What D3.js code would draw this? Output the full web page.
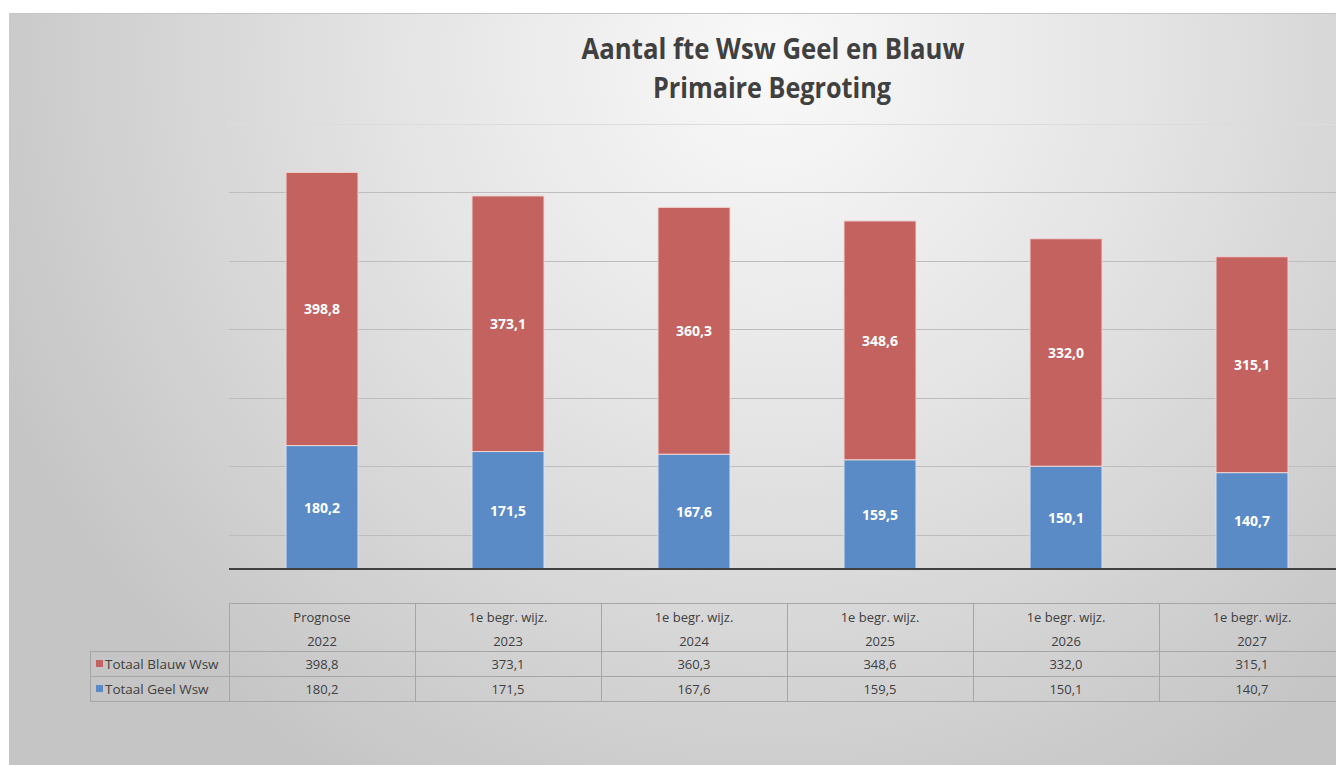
<!DOCTYPE html>
<html><head><meta charset="utf-8">
<script src="https://cdn.jsdelivr.net/npm/d3@7"></script>
<style>html,body{margin:0;padding:0;background:#fff;overflow:hidden}</style>
</head><body>
<svg id="c" width="1336" height="765"></svg>
<script>
const categories = ["Prognose|2022","1e begr. wijz.|2023","1e begr. wijz.|2024","1e begr. wijz.|2025","1e begr. wijz.|2026","1e begr. wijz.|2027"];
const blauw = [398.8, 373.1, 360.3, 348.6, 332.0, 315.1];
const geel = [180.2, 171.5, 167.6, 159.5, 150.1, 140.7];
const seriesNames = ["Totaal Blauw Wsw", "Totaal Geel Wsw"];
const gridValues = [50,150,250,350,450,550,650];
const titleLines = ["Aantal fte Wsw Geel en Blauw", "Primaire Begroting"];

const fmt = v => v.toFixed(1).replace(".", ",");
const svg = d3.select("#c");
const defs = svg.append("defs");
const grad = defs.append("radialGradient").attr("id","bg").attr("gradientUnits","userSpaceOnUse")
  .attr("cx",770).attr("cy",60).attr("r",840);
grad.append("stop").attr("offset",0).attr("stop-color","#f9f9f9");
grad.append("stop").attr("offset",0.45).attr("stop-color","#e4e4e4");
grad.append("stop").attr("offset",1).attr("stop-color","#c5c5c5");
defs.append("clipPath").attr("id","clip").append("rect").attr("x",0).attr("y",0).attr("width",1336).attr("height",765);

svg.append("rect").attr("x",9).attr("y",13).attr("width",1327).attr("height",752).attr("fill","url(#bg)");
svg.append("line").attr("x1",9).attr("x2",1336).attr("y1",13.5).attr("y2",13.5).attr("stroke","#c4c4c4");

const x = d3.scaleBand().domain(d3.range(categories.length)).range([229, 229 + 186*6]).paddingInner(0).paddingOuter(0);
const y = d3.scaleLinear().domain([0,700]).range([569, 89.5]);
const bw = 72;

const g = svg.append("g").attr("clip-path","url(#clip)");
g.selectAll(".grid").data(gridValues).join("line")
  .attr("x1",229).attr("x2",1336)
  .attr("y1",d=>Math.round(y(d))+0.5).attr("y2",d=>Math.round(y(d))+0.5)
  .attr("stroke",(d,i)=> i===gridValues.length-1 ? "#dcdcdc" : "#bdbdbd").attr("stroke-width",1);

const cx = i => x(i) + x.bandwidth()/2;
g.selectAll(".geel").data(geel).join("rect")
  .attr("x",(d,i)=>cx(i)-bw/2).attr("width",bw)
  .attr("y",d=>y(d)).attr("height",d=>y(0)-y(d))
  .attr("fill","#5b8bc6").attr("stroke","#d6e2f2").attr("stroke-width",1);
g.selectAll(".blauw").data(blauw).join("rect")
  .attr("x",(d,i)=>cx(i)-bw/2).attr("width",bw)
  .attr("y",(d,i)=>y(d+geel[i])).attr("height",(d,i)=>y(geel[i])-y(d+geel[i]))
  .attr("fill","#c4625f").attr("stroke","#f0d4d3").attr("stroke-width",1);

const lblFont = "'Open Sans', 'Noto Sans', sans-serif";
g.selectAll(".lg").data(geel).join("text")
  .attr("x",(d,i)=>cx(i)).attr("y",d=>(y(0)+y(d))/2)
  .attr("text-anchor","middle").attr("dominant-baseline","central")
  .attr("fill","#fff").attr("font-family",lblFont).attr("font-weight","bold").attr("font-size",14)
  .text(d=>fmt(d));
g.selectAll(".lb").data(blauw).join("text")
  .attr("x",(d,i)=>cx(i)).attr("y",(d,i)=>(y(geel[i])+y(d+geel[i]))/2)
  .attr("text-anchor","middle").attr("dominant-baseline","central")
  .attr("fill","#fff").attr("font-family",lblFont).attr("font-weight","bold").attr("font-size",14)
  .text(d=>fmt(d));

g.append("line").attr("x1",229).attr("x2",1336).attr("y1",569).attr("y2",569)
  .attr("stroke","#404040").attr("stroke-width",2);

const tFont = "'Open Sans', sans-serif";
svg.append("text").attr("x",773).attr("y",59).attr("text-anchor","middle")
  .attr("font-family",tFont).attr("font-weight","bold").attr("font-size",28).attr("fill","#404040")
  .attr("textLength",383).attr("lengthAdjust","spacingAndGlyphs").text(titleLines[0]);
svg.append("text").attr("x",772).attr("y",98).attr("text-anchor","middle")
  .attr("font-family",tFont).attr("font-weight","bold").attr("font-size",28).attr("fill","#404040")
  .attr("textLength",238).attr("lengthAdjust","spacingAndGlyphs").text(titleLines[1]);

const tg = svg.append("g").attr("clip-path","url(#clip)");
const bc = "#a6a6a6";
const tblFont = "'Open Sans', 'Noto Sans', sans-serif";
const tfs = 13;
const xr = 229 + 186*6;
tg.append("line").attr("x1",229).attr("x2",xr).attr("y1",603.5).attr("y2",603.5).attr("stroke",bc);
[651.5,676.5,701.5].forEach(yy=>tg.append("line").attr("x1",90).attr("x2",xr).attr("y1",yy).attr("y2",yy).attr("stroke",bc));
tg.append("line").attr("x1",90.5).attr("x2",90.5).attr("y1",651).attr("y2",702).attr("stroke",bc);
tg.selectAll(".vl").data(d3.range(categories.length+1)).join("line")
  .attr("x1",i=>(i<categories.length? x(i): xr)+0.5).attr("x2",i=>(i<categories.length? x(i): xr)+0.5)
  .attr("y1",603).attr("y2",702).attr("stroke",bc);

categories.forEach((c,i)=>{
  const [a,b] = c.split("|");
  tg.append("text").attr("x",cx(i)).attr("y",622).attr("text-anchor","middle")
    .attr("font-family",tblFont).attr("font-size",tfs).attr("fill","#404040").text(a);
  tg.append("text").attr("x",cx(i)).attr("y",646).attr("text-anchor","middle")
    .attr("font-family",tblFont).attr("font-size",tfs).attr("fill","#404040").text(b);
});
const rows = [blauw, geel];
const rowColors = ["#c4625f","#5b8bc6"];
rows.forEach((r,ri)=>{
  const yy = 669 + ri*25;
  tg.selectAll(".rv"+ri).data(r).join("text")
    .attr("x",(d,i)=>cx(i)).attr("y",yy).attr("text-anchor","middle")
    .attr("font-family",tblFont).attr("font-size",tfs).attr("fill","#404040").text(d=>fmt(d));
  tg.append("rect").attr("x",96).attr("y",yy-9).attr("width",7).attr("height",7).attr("fill",rowColors[ri]);
  tg.append("text").attr("x",105).attr("y",yy).attr("font-family",tblFont).attr("font-size",tfs+0.5)
    .attr("fill","#404040").text(seriesNames[ri]);
});
</script>
</body></html>
